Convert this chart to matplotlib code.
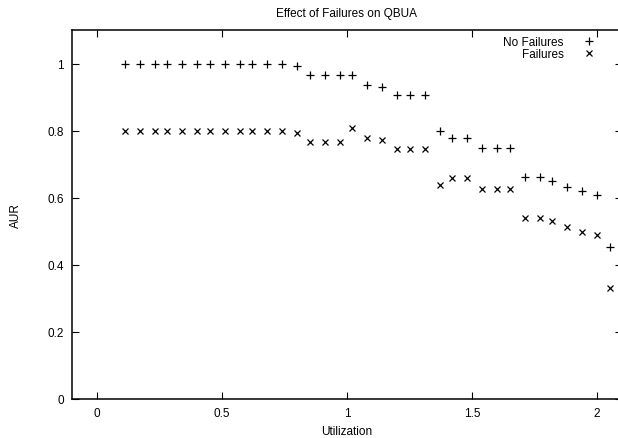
import matplotlib
matplotlib.use('Agg')
import matplotlib.pyplot as plt

plt.rcParams['font.family'] = ['Liberation Sans', 'DejaVu Sans']

# utilization values of each run, and AUR with and without failures
util = [0.11, 0.17, 0.23, 0.28, 0.34, 0.40, 0.45, 0.51, 0.57, 0.62, 0.68, 0.74,
        0.80, 0.85, 0.91, 0.97, 1.02, 1.08, 1.14, 1.20, 1.25, 1.31, 1.37, 1.42,
        1.48, 1.54, 1.60, 1.65, 1.71, 1.77, 1.82, 1.88, 1.94, 2.00, 2.05]
aur_no_fail = [1.0, 1.0, 1.0, 1.0, 1.0, 1.0, 1.0, 1.0, 1.0, 1.0, 1.0, 1.0,
               0.993, 0.967, 0.967, 0.967, 0.967, 0.937, 0.930, 0.905, 0.905,
               0.905, 0.798, 0.777, 0.777, 0.747, 0.747, 0.747, 0.661, 0.661,
               0.650, 0.633, 0.619, 0.609, 0.452]
aur_fail = [0.80, 0.80, 0.80, 0.80, 0.80, 0.80, 0.80, 0.80, 0.80, 0.80, 0.80,
            0.80, 0.794, 0.767, 0.767, 0.767, 0.808, 0.778, 0.772, 0.746, 0.746,
            0.746, 0.639, 0.658, 0.658, 0.625, 0.625, 0.625, 0.541, 0.541,
            0.530, 0.513, 0.498, 0.488, 0.332]

xticks = [0, 0.5, 1, 1.5, 2]
yticks = [0, 0.2, 0.4, 0.6, 0.8, 1]

fig = plt.figure(figsize=(6.18, 4.39), dpi=100)
# axes run a little past the right edge, like the cropped original
ax = fig.add_axes([72/618, 1 - 400/439, 550/618, 369/439])

ax.plot(util, aur_no_fail, linestyle='none', marker='+', color='black',
        ms=5.5, mew=0.9, label='No Failures')
ax.plot(util, aur_fail, linestyle='none', marker='x', color='black',
        ms=4.5, mew=0.9, label='Failures')

ax.set_xlim(-0.1, 2.1)
ax.set_ylim(0, 1.1)
ax.set_xticks(xticks)
ax.set_xticklabels(['0', '0.5', '1', '1.5', '2'])
ax.set_yticks(yticks)
ax.set_yticklabels(['0', '0.2', '0.4', '0.6', '0.8', '1'])
ax.tick_params(direction='in', length=5, width=0.8, top=True, right=True,
               labelsize=8.5, pad=6)
for s in ax.spines.values():
    s.set_linewidth(1.1)

ax.set_title('Effect of Failures on QBUA', fontsize=8.5, pad=10)
ax.set_xlabel('Utilization', fontsize=8.5, labelpad=4)
ax.set_ylabel('AUR', fontsize=8.5, labelpad=18)

ax.legend(loc='upper right', bbox_to_anchor=(598/618, 1 - 37/439),
          bbox_transform=fig.transFigure, markerfirst=False, frameon=False,
          fontsize=8.5, handlelength=1.5, handletextpad=1.4,
          labelspacing=0.0, borderpad=0, borderaxespad=0)

# caption of the paper figure, cut off at the bottom edge
fig.text(61/618, 1 - 439.5/439, 'Figure 7. Effect of failures of QBUA when the task H',
         fontsize=12, fontweight='bold', family=['Liberation Serif', 'DejaVu Serif'],
         va='top', ha='left')

fig.savefig('out.png', dpi=100)
